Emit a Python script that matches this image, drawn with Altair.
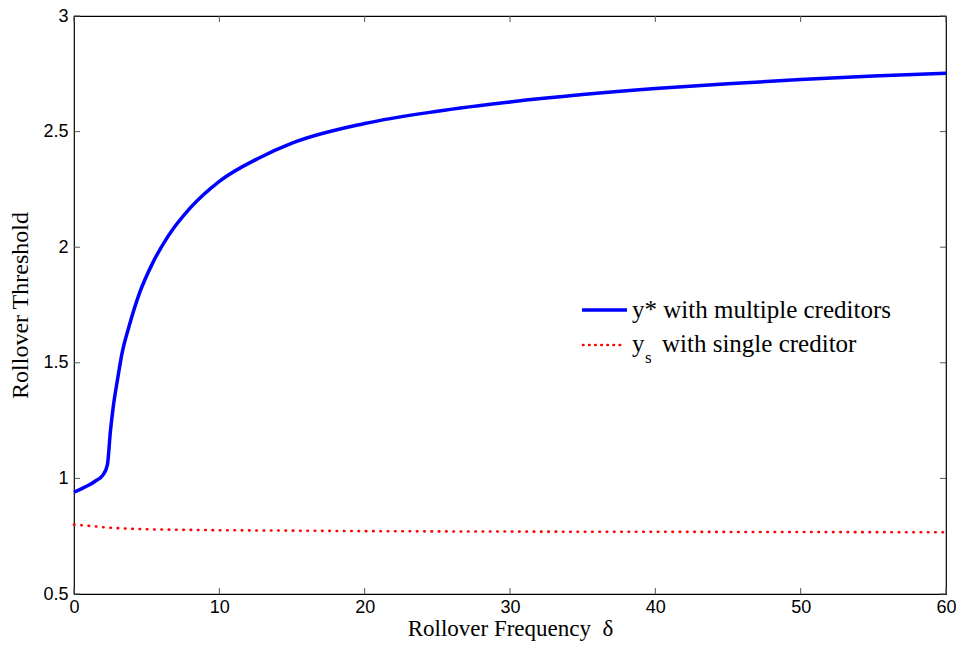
import altair as alt
import pandas as pd

# Data
blue_x = [0, 0.5, 1, 1.5, 2, 2.3, 2.5, 2.7, 3, 3.3, 3.8, 4.5, 5.4, 6.5, 8, 10, 12.7, 15, 20, 25, 30, 35, 40, 45, 50, 55, 60]
blue_y = [0.94, 0.955, 0.97, 0.99, 1.015, 1.06, 1.2, 1.31, 1.43, 1.54, 1.66, 1.80, 1.93, 2.05, 2.17, 2.285, 2.385, 2.45, 2.535, 2.588, 2.628, 2.66, 2.686, 2.707, 2.725, 2.74, 2.752]
red_x = [0, 1, 2, 3, 4, 5, 7, 10, 15, 20, 30, 40, 50, 60]
red_y = [0.80, 0.795, 0.789, 0.785, 0.782, 0.780, 0.778, 0.776, 0.774, 0.772, 0.770, 0.769, 0.768, 0.767]
x_ticks = [0, 10, 20, 30, 40, 50, 60]
y_ticks = [0.5, 1, 1.5, 2, 2.5, 3]

W, H = 872, 578
TICK = 6

blue = pd.DataFrame({"x": blue_x, "y": blue_y})
red = pd.DataFrame({"x": red_x, "y": red_y})
xt = pd.DataFrame({"v": x_ticks})
yt = pd.DataFrame({"v": y_ticks})

xscale = alt.Scale(domain=[0, 60], nice=False, zero=False)
yscale = alt.Scale(domain=[0.5, 3], nice=False, zero=False)

xaxis = alt.Axis(values=x_ticks, title="Rollover Frequency\u00a0\u00a0δ", grid=False, domain=False,
                 tickSize=0, labelPadding=4, labelFont="Liberation Sans", labelFontSize=18,
                 labelColor="black", titleFont="Liberation Serif", titleFontSize=23,
                 titleFontWeight="normal", titleColor="black", titlePadding=1, labelFlush=False)
yaxis = alt.Axis(values=y_ticks, format="~g", title="Rollover Threshold", grid=False, domain=False,
                 tickSize=0, labelPadding=6, labelFont="Liberation Sans", labelFontSize=18,
                 labelColor="black", titleFont="Liberation Serif", titleFontSize=24,
                 titleFontWeight="normal", titleColor="black", titlePadding=10, labelFlush=False)

blue_line = alt.Chart(blue).mark_line(color="#0000FF", strokeWidth=3.5, interpolate="monotone").encode(
    x=alt.X("x:Q", scale=xscale, axis=xaxis),
    y=alt.Y("y:Q", scale=yscale, axis=yaxis),
)
red_line = alt.Chart(red).mark_line(color="#FF0000", strokeWidth=2.6, strokeDash=[0.5, 6.8],
                                    strokeCap="round", interpolate="monotone").encode(
    x=alt.X("x:Q", scale=xscale),
    y=alt.Y("y:Q", scale=yscale),
)

# inward ticks (bottom, top, left, right)
TC = "#555555"
xt_bot = alt.Chart(xt).mark_rule(color=TC, strokeWidth=1).encode(
    x=alt.X("v:Q", scale=xscale), y=alt.value(H), y2=alt.value(H - TICK))
xt_top = alt.Chart(xt).mark_rule(color=TC, strokeWidth=1).encode(
    x=alt.X("v:Q", scale=xscale), y=alt.value(0), y2=alt.value(TICK))
yt_left = alt.Chart(yt).mark_rule(color=TC, strokeWidth=1).encode(
    y=alt.Y("v:Q", scale=yscale), x=alt.value(0), x2=alt.value(TICK))
yt_right = alt.Chart(yt).mark_rule(color=TC, strokeWidth=1).encode(
    y=alt.Y("v:Q", scale=yscale), x=alt.value(W), x2=alt.value(W - TICK))

# legend
lx0, lx1 = 508, 553
leg_blue = alt.Chart(pd.DataFrame({"a": [0]})).mark_rule(color="#0000FF", strokeWidth=3.5).encode(
    x=alt.value(lx0), x2=alt.value(lx1), y=alt.value(294))
leg_red = alt.Chart(pd.DataFrame({"a": [0]})).mark_rule(color="#FF0000", strokeWidth=2.6,
                                                        strokeDash=[0.5, 5.6], strokeCap="round").encode(
    x=alt.value(lx0 + 1), x2=alt.value(lx1 - 5), y=alt.value(329))
txt_style = dict(font="Liberation Serif", fontSize=25, color="black", align="left", baseline="alphabetic")
leg_t1 = alt.Chart(pd.DataFrame({"t": ["y* with multiple creditors"]})).mark_text(**txt_style).encode(
    text="t:N", x=alt.value(558), y=alt.value(302))
leg_t2a = alt.Chart(pd.DataFrame({"t": ["y"]})).mark_text(**txt_style).encode(
    text="t:N", x=alt.value(558), y=alt.value(336))
leg_t2s = alt.Chart(pd.DataFrame({"t": ["s"]})).mark_text(font="Liberation Serif", fontSize=17, color="black",
                                                         align="left", baseline="alphabetic").encode(
    text="t:N", x=alt.value(571), y=alt.value(347))
leg_t2b = alt.Chart(pd.DataFrame({"t": ["with single creditor"]})).mark_text(**txt_style).encode(
    text="t:N", x=alt.value(588), y=alt.value(336))

chart = alt.layer(
    blue_line, red_line, xt_bot, xt_top, yt_left, yt_right,
    leg_blue, leg_red, leg_t1, leg_t2a, leg_t2s, leg_t2b,
).properties(
    width=W, height=H,
    autosize=alt.AutoSizeParams(type="none"),
    padding={"left": 66, "top": 8, "right": 10, "bottom": 47},
    background="white",
).configure_view(stroke="black", strokeWidth=1.2)

chart.save("out.html", embed_options={"renderer": "svg", "actions": False})
